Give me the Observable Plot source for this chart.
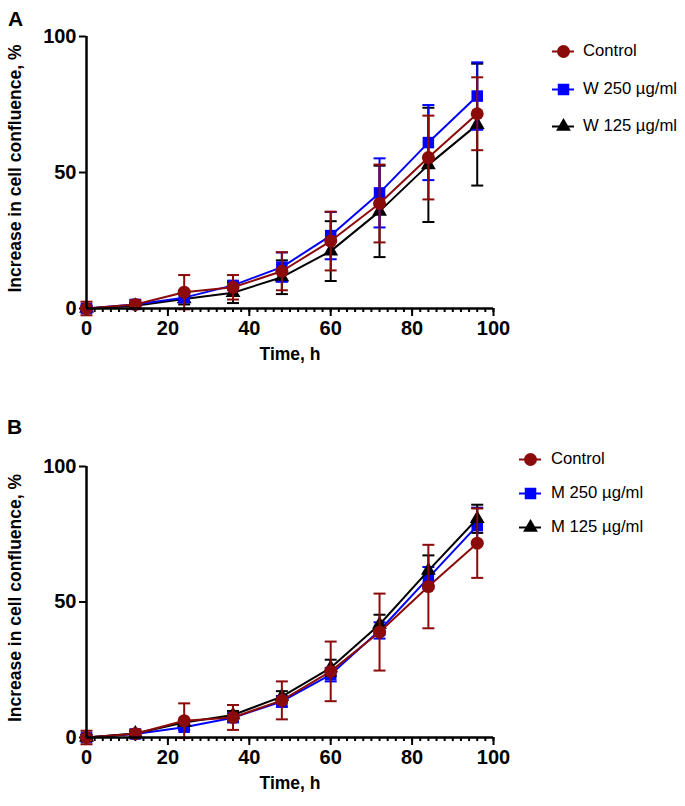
<!DOCTYPE html>
<html><head><meta charset="utf-8">
<script src="https://cdn.jsdelivr.net/npm/d3@7"></script>
<script src="https://cdn.jsdelivr.net/npm/@observablehq/plot@0.6"></script>
<style>
body{margin:0;background:#fff;font-family:"Liberation Sans",Arial,sans-serif;}
#wrap{position:relative;width:685px;height:806px;overflow:hidden;}
.panel{position:absolute;left:0;}
.plabel{position:absolute;font-weight:bold;font-size:21px;line-height:1;color:#000;}
.row{position:absolute;display:flex;align-items:center;white-space:nowrap;font-size:16.7px;color:#000;height:20px;}
.row svg{display:block;}
</style></head><body><div id="wrap"></div>
<script>
// ---- data ----
const time = [0, 12, 24, 36, 48, 60, 72, 84, 96];
const xTicks = [0, 20, 40, 60, 80, 100];
const yTicks = [0, 50, 100];

// Panel A
const controlMean = [0, 1.5, 6.0, 7.8, 13.7, 24.8, 38.6, 55.5, 71.6];
const controlSd   = [2.5, 1.5, 6.3, 4.5, 7.0, 10.8, 14.3, 15.4, 13.4];
const w250Mean = [0, 1.5, 4.0, 8.5, 15.2, 26.8, 42.5, 61.0, 78.1];
const w250Sd   = [1.0, 1.0, 1.5, 1.5, 5.4, 8.7, 12.7, 13.8, 12.4];
const w125Mean = [0, 1.0, 3.5, 5.8, 11.5, 21.1, 35.7, 52.8, 67.6];
const w125Sd   = [1.0, 1.0, 2.0, 3.8, 6.2, 11.0, 16.8, 21.0, 22.4];

// Panel B
const controlBMean = [0, 1.4, 6.2, 7.4, 13.7, 24.4, 38.9, 55.7, 71.7];
const controlBSd   = [2.5, 1.5, 6.4, 4.6, 7.0, 11.0, 14.2, 15.4, 12.8];
const m250Mean = [0, 1.3, 3.8, 7.3, 13.3, 23.2, 39.5, 58.9, 78.2];
const m250Sd   = [1.0, 1.0, 1.0, 1.5, 2.0, 2.5, 3.0, 4.0, 6.6];
const m125Mean = [0, 1.5, 5.5, 8.3, 15.1, 25.7, 41.7, 61.6, 80.7];
const m125Sd   = [1.0, 1.0, 1.0, 1.5, 2.0, 3.0, 3.6, 5.6, 5.2];

const legendA = ["Control", "W 250 µg/ml", "W 125 µg/ml"];
const legendB = ["Control", "M 250 µg/ml", "M 125 µg/ml"];
const yLabel = "Increase in cell confluence, %";
const xLabel = "Time, h";

const RED = "#8b0a0a", BLUE = "#0000ff", BLACK = "#000000";
const FONT = '"Liberation Sans", Arial, sans-serif';

const capSymbol = {draw(ctx, size) { const r = Math.sqrt(size / Math.PI); ctx.moveTo(-r, 0); ctx.lineTo(r, 0); }};

function rows(mean, sd) { return time.map((t, i) => ({t, m: mean[i], sd: sd[i]})); }

function makePanel(series, top, height, marginTop, marginBottom) {
  const marks = [];
  for (const s of series) {
    const data = rows(s.mean, s.sd);
    marks.push(Plot.ruleX(data, {x: "t", y1: d => d.m - d.sd, y2: d => d.m + d.sd, stroke: s.color, strokeWidth: 2}));
    marks.push(Plot.dot(data, {x: "t", y: d => d.m + d.sd, symbol: capSymbol, r: 6, stroke: s.color, strokeWidth: 2, fill: "none"}));
    marks.push(Plot.dot(data, {x: "t", y: d => d.m - d.sd, symbol: capSymbol, r: 6, stroke: s.color, strokeWidth: 2, fill: "none"}));
    marks.push(Plot.line(data, {x: "t", y: "m", stroke: s.color, strokeWidth: 2}));
    marks.push(Plot.dot(data, {x: "t", y: "m", symbol: s.symbol, r: s.r, fill: s.color, stroke: "none"}));
  }
  const svg = Plot.plot({
    width: 685, height, marginLeft: 86, marginRight: 192, marginTop, marginBottom,
    style: {fontFamily: FONT, fontWeight: "bold", background: "white", color: "black"},
    x: {domain: [0, 100]},
    y: {domain: [0, 100]},
    marks: [
      Plot.axisX({ticks: d3.range(0, 101, 2), tickSize: 4, tickFormat: () => "", strokeWidth: 2, label: null}),
      Plot.axisX({ticks: xTicks, tickSize: 8, tickPadding: 4, strokeWidth: 2, fontSize: 20, fontWeight: "bold", label: null}),
      Plot.axisY({ticks: yTicks, tickSize: 7, tickPadding: 3, strokeWidth: 2, fontSize: 20, fontWeight: "bold", label: null}),
      Plot.text([yLabel], {text: d => d, frameAnchor: "left", textAnchor: "middle", rotate: -90, dx: -71, dy: -4, fontSize: 17.5, fontWeight: "bold"}),
      Plot.text([xLabel], {text: d => d, frameAnchor: "bottom", textAnchor: "middle", dy: 51, fontSize: 17.5, fontWeight: "bold"}),
      ...marks,
      Plot.ruleX([0], {stroke: "black", strokeWidth: 2.5}),
      Plot.ruleY([0], {stroke: "black", strokeWidth: 2.5})
    ]
  });
  svg.classList.add("panel");
  svg.style.top = top + "px";
  return svg;
}

function swatch(color, symbol, r) {
  return Plot.plot({
    width: 22, height: 16, margin: 0, x: {domain: [0, 1], axis: null}, y: {domain: [0, 1], axis: null},
    marks: [
      Plot.ruleY([0.5], {stroke: color, strokeWidth: 2}),
      Plot.dot([0.5], {x: d => d, y: 0.5, symbol, r, fill: color, stroke: "none"})
    ]
  });
}

function legend(labels, styles, left, textGap, ys) {
  labels.forEach((lab, i) => {
    const div = document.createElement("div");
    div.className = "row";
    div.style.left = left + "px";
    div.style.top = (ys[i] - 10) + "px";
    div.appendChild(swatch(styles[i].color, styles[i].symbol, styles[i].r));
    const sp = document.createElement("span");
    sp.textContent = lab;
    sp.style.marginLeft = textGap + "px";
    div.appendChild(sp);
    wrap.appendChild(div);
  });
}

const wrap = document.getElementById("wrap");
const stC = {color: RED, symbol: "circle", r: 6.5};
const stS = {color: BLUE, symbol: "square", r: 6.5};
const stT = {color: BLACK, symbol: "triangle", r: 5.5};

wrap.appendChild(makePanel([
  {mean: w125Mean, sd: w125Sd, ...stT},
  {mean: w250Mean, sd: w250Sd, ...stS},
  {mean: controlMean, sd: controlSd, ...stC}
], 0, 390, 36, 82));

wrap.appendChild(makePanel([
  {mean: m250Mean, sd: m250Sd, ...stS},
  {mean: m125Mean, sd: m125Sd, ...stT},
  {mean: controlBMean, sd: controlBSd, ...stC}
], 390, 416, 76, 69));

const la = document.createElement("div"); la.className = "plabel"; la.textContent = "A"; la.style.left = "8px"; la.style.top = "8px"; wrap.appendChild(la);
const lb = document.createElement("div"); lb.className = "plabel"; lb.textContent = "B"; lb.style.left = "7px"; lb.style.top = "416px"; wrap.appendChild(lb);

legend(legendA, [stC, stS, stT], 552, 9, [51, 89, 126]);
legend(legendB, [stC, stS, stT], 519, 10, [459, 493, 527]);
</script></body></html>
